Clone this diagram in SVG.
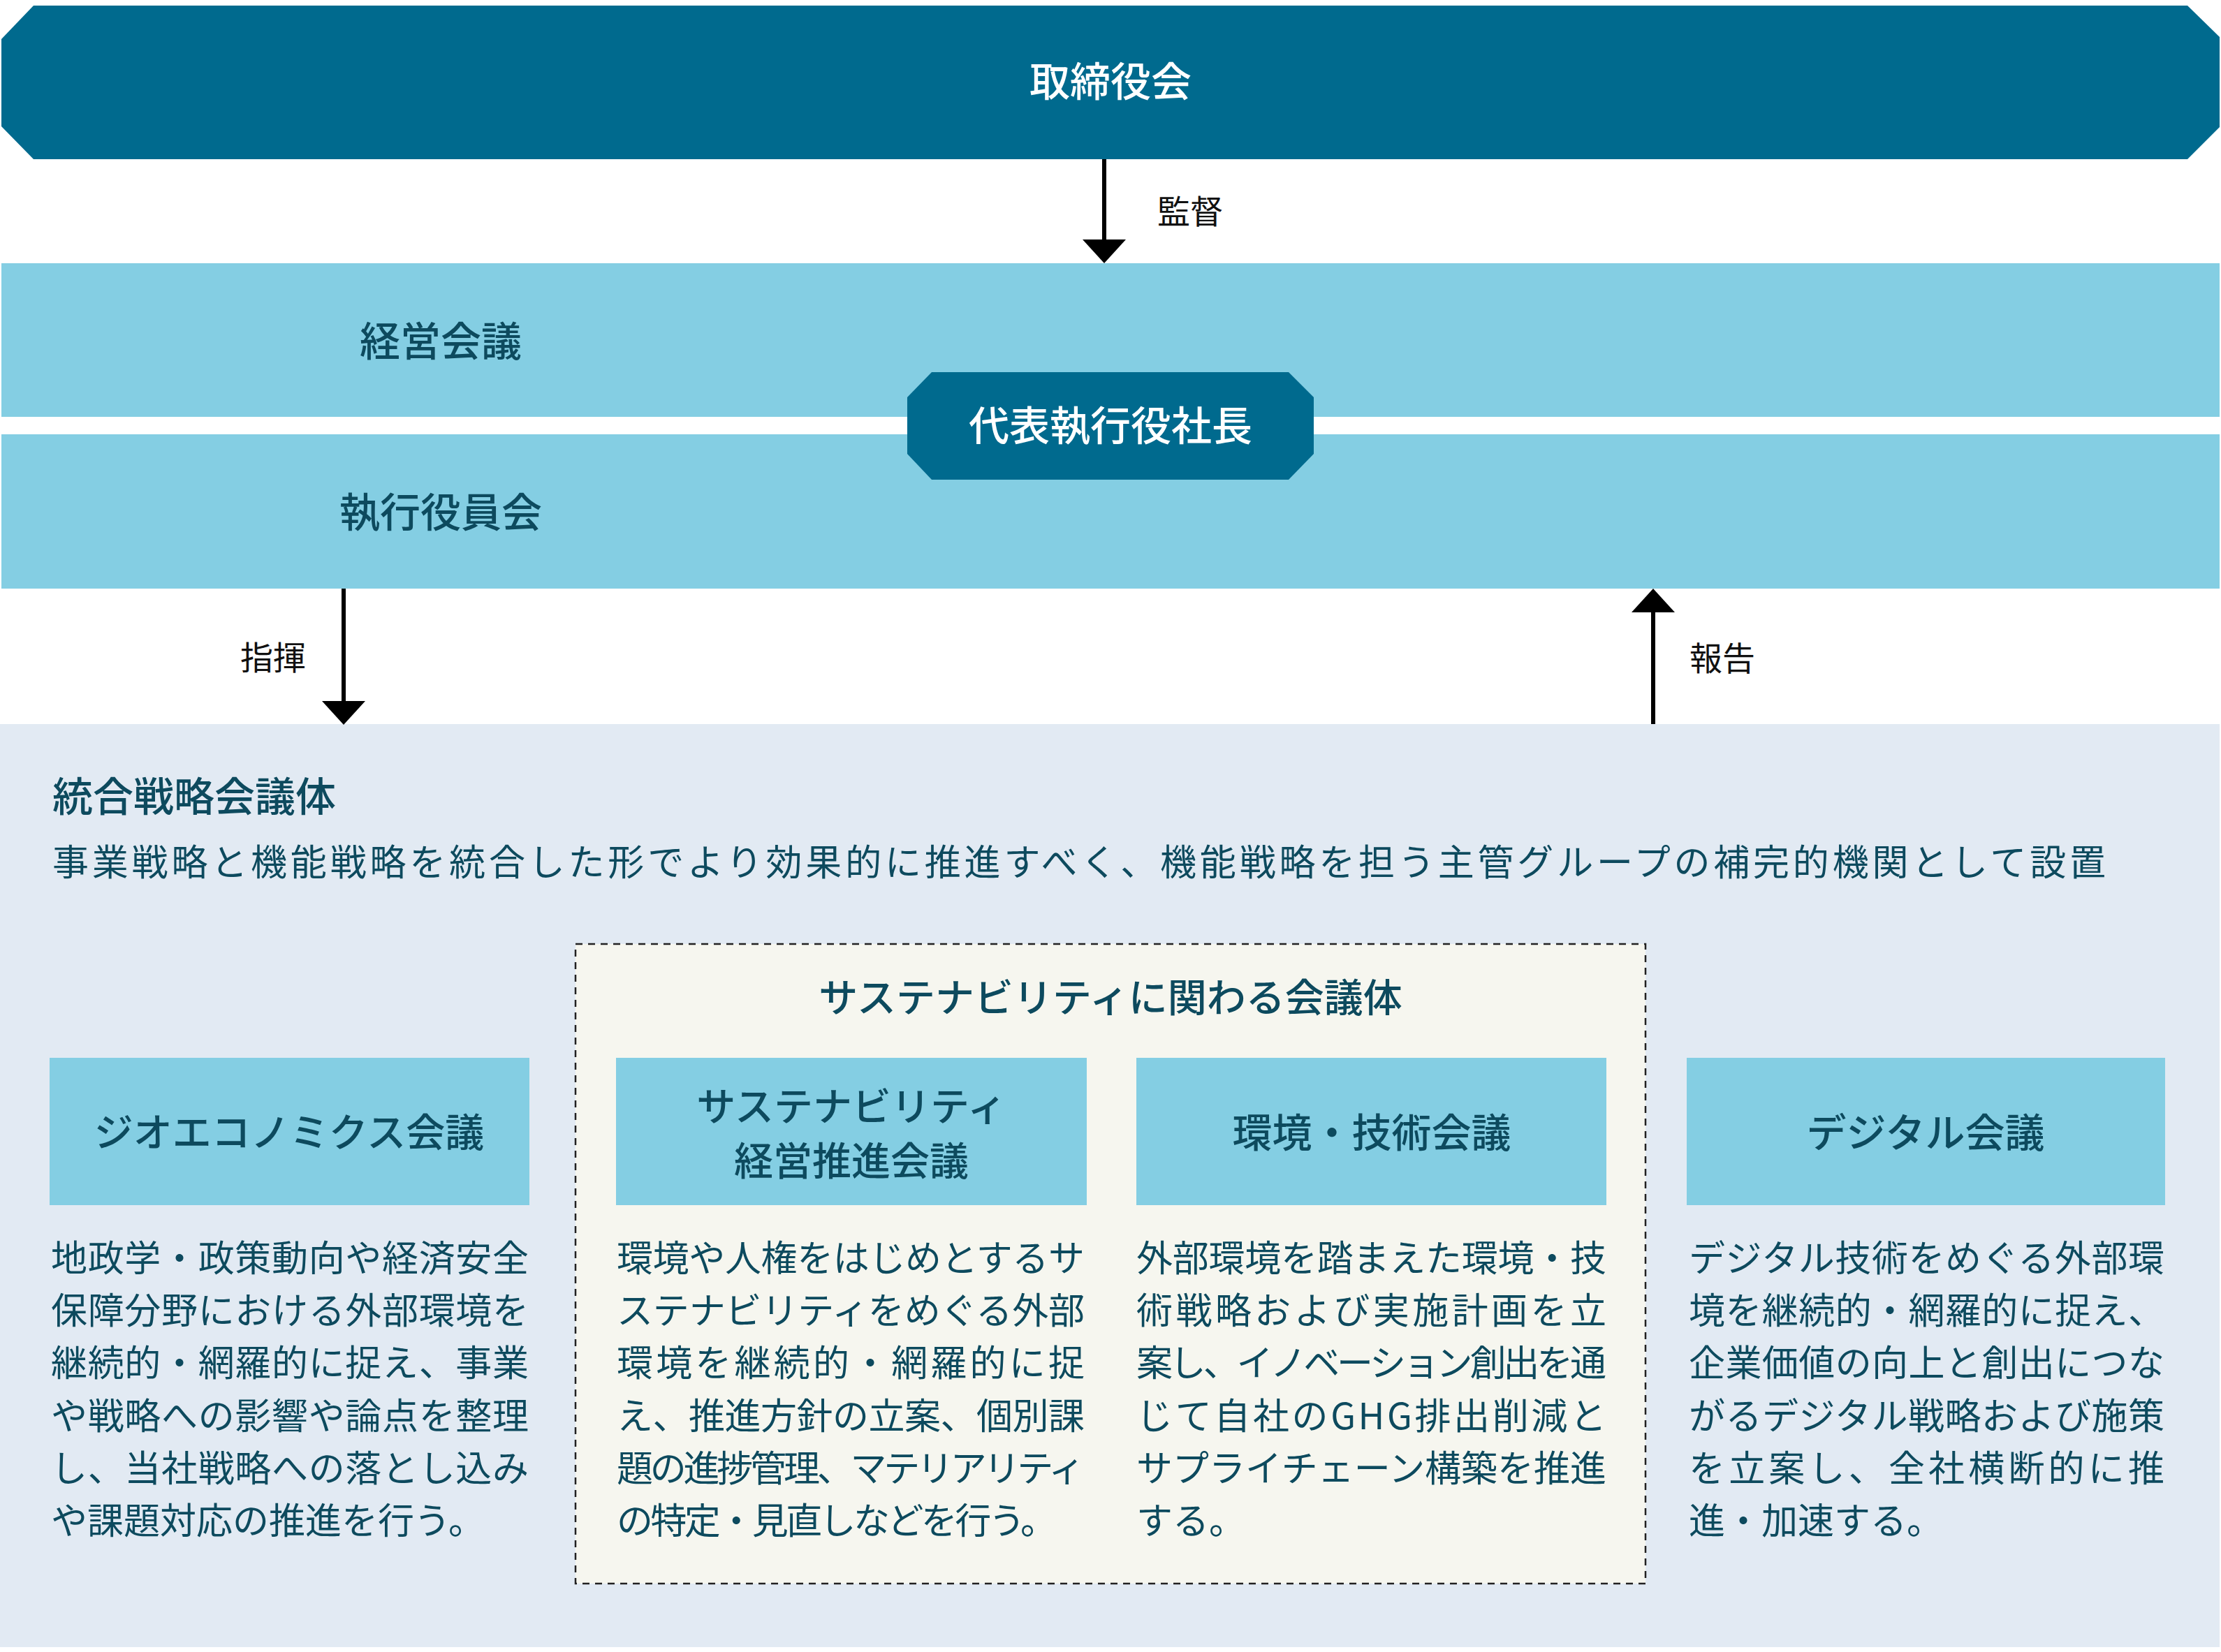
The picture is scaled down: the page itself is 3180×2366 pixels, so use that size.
<svg xmlns="http://www.w3.org/2000/svg" width="3180" height="2366" viewBox="0 0 3180 2366">
<style>
.title{font-family:"Noto Sans CJK JP",sans-serif;font-weight:500;fill:#0d4a5e;}
.white{font-family:"Noto Sans CJK JP",sans-serif;font-weight:500;fill:#ffffff;}
.lbl{font-family:"Noto Sans CJK JP",sans-serif;font-weight:400;fill:#111111;font-size:47px;}
.body{font-family:"Noto Sans CJK JP",sans-serif;font-weight:400;fill:#0d4a5e;font-size:52px;}
.band{fill:#84cee3;}
.dark{fill:#006a8e;}
.conn{stroke:#000;stroke-width:6;fill:none;}
</style>
<defs>
<marker id="ah" markerUnits="userSpaceOnUse" markerWidth="34" markerHeight="62" refX="0" refY="31" orient="auto">
<path d="M0,0 L34,31 L0,62 Z" fill="#000"/>
</marker>
</defs>
<rect x="0" y="0" width="3180" height="2366" fill="#ffffff"/>

<g id="board">
<polygon class="dark" points="48,8 3132,8 3178,53 3178,182 3132,228 48,228 2,181 2,56"/>
<text class="white" x="1590" y="138" font-size="58" text-anchor="middle">取締役会</text>
</g>

<g id="keiei-kaigi">
<rect class="band" x="2" y="377" width="3176" height="220"/>
<text class="title" x="631" y="510" font-size="58" text-anchor="middle">経営会議</text>
</g>

<g id="shikko-yakuinkai">
<rect class="band" x="2" y="622" width="3176" height="221"/>
<text class="title" x="631" y="755" font-size="58" text-anchor="middle">執行役員会</text>
</g>

<g id="ceo">
<polygon class="dark" points="1334,533 1845,533 1881,569 1881,650 1845,687 1334,687 1299,650 1299,569"/>
<text class="white" x="1590" y="631" font-size="58" text-anchor="middle">代表執行役社長</text>
</g>

<g id="togo-senryaku">
<rect x="0" y="1037" width="3178" height="1322" fill="#e2eaf3"/>
<text class="title" x="75" y="1162" font-size="58">統合戦略会議体</text>
<text class="body" x="75" y="1254" font-size="56" textLength="2940" lengthAdjust="spacing">事業戦略と機能戦略を統合した形でより効果的に推進すべく、機能戦略を担う主管グループの補完的機関として設置</text>
</g>

<g id="sustainability-group">
<rect x="824" y="1352" width="1532" height="916" fill="#f6f6ef" stroke="#222" stroke-width="2.5" stroke-dasharray="10,8"/>
<text class="title" x="1590" y="1449" font-size="56" text-anchor="middle">サステナビリティに関わる会議体</text>
</g>

<g id="geoeconomics">
<rect class="band" x="71" y="1515" width="687" height="211"/>
<text class="title" x="414" y="1642" font-size="56" text-anchor="middle">ジオエコノミクス会議</text>
<text class="body" x="73" y="1821" textLength="684" lengthAdjust="spacing">地政学・政策動向や経済安全</text>
<text class="body" x="73" y="1896" textLength="684" lengthAdjust="spacing">保障分野における外部環境を</text>
<text class="body" x="73" y="1971" textLength="684" lengthAdjust="spacing">継続的・網羅的に捉え、事業</text>
<text class="body" x="73" y="2047" textLength="684" lengthAdjust="spacing">や戦略への影響や論点を整理</text>
<text class="body" x="73" y="2122" textLength="684" lengthAdjust="spacing">し、当社戦略への落とし込み</text>
<text class="body" x="73" y="2197">や課題対応の推進を行う。</text>
</g>

<g id="sustainability-kaigi">
<rect class="band" x="882" y="1515" width="674" height="211"/>
<text class="title" x="1219" y="1605" font-size="56" text-anchor="middle">サステナビリティ</text>
<text class="title" x="1219" y="1683" font-size="56" text-anchor="middle">経営推進会議</text>
<text class="body" x="883" y="1821" textLength="670" lengthAdjust="spacing">環境や人権をはじめとするサ</text>
<text class="body" x="883" y="1896" textLength="670" lengthAdjust="spacing">ステナビリティをめぐる外部</text>
<text class="body" x="883" y="1971" textLength="670" lengthAdjust="spacing">環境を継続的・網羅的に捉</text>
<text class="body" x="883" y="2047" textLength="670" lengthAdjust="spacing">え、推進方針の立案、個別課</text>
<text class="body" x="883" y="2122" textLength="670" lengthAdjust="spacing">題の進捗管理、マテリアリティ</text>
<text class="body" x="883" y="2197" textLength="630" lengthAdjust="spacing">の特定・見直しなどを行う。</text>
</g>

<g id="kankyo-gijutsu">
<rect class="band" x="1627" y="1515" width="673" height="211"/>
<text class="title" x="1964" y="1643" font-size="57" text-anchor="middle">環境・技術会議</text>
<text class="body" x="1627" y="1821" textLength="673" lengthAdjust="spacing">外部環境を踏まえた環境・技</text>
<text class="body" x="1627" y="1896" textLength="673" lengthAdjust="spacing">術戦略および実施計画を立</text>
<text class="body" x="1627" y="1971" textLength="673" lengthAdjust="spacing">案し、イノベーション創出を通</text>
<text class="body" x="1627" y="2047" textLength="673" lengthAdjust="spacing">じて自社のGHG排出削減と</text>
<text class="body" x="1627" y="2122" textLength="673" lengthAdjust="spacing">サプライチェーン構築を推進</text>
<text class="body" x="1627" y="2197">する。</text>
</g>

<g id="digital">
<rect class="band" x="2415" y="1515" width="685" height="211"/>
<text class="title" x="2757" y="1643" font-size="57" text-anchor="middle">デジタル会議</text>
<text class="body" x="2418" y="1821" textLength="681" lengthAdjust="spacing">デジタル技術をめぐる外部環</text>
<text class="body" x="2418" y="1896" textLength="681" lengthAdjust="spacing">境を継続的・網羅的に捉え、</text>
<text class="body" x="2418" y="1971" textLength="681" lengthAdjust="spacing">企業価値の向上と創出につな</text>
<text class="body" x="2418" y="2047" textLength="681" lengthAdjust="spacing">がるデジタル戦略および施策</text>
<text class="body" x="2418" y="2122" textLength="681" lengthAdjust="spacing">を立案し、全社横断的に推</text>
<text class="body" x="2418" y="2197">進・加速する。</text>
</g>

<g id="connectors">
<line class="conn" x1="1581" y1="228" x2="1581" y2="343" marker-end="url(#ah)"/>
<text class="lbl" x="1657" y="320">監督</text>
<line class="conn" x1="492" y1="843" x2="492" y2="1004" marker-end="url(#ah)"/>
<text class="lbl" x="344" y="959">指揮</text>
<line class="conn" x1="2367" y1="1037" x2="2367" y2="877" marker-end="url(#ah)"/>
<text class="lbl" x="2419" y="960">報告</text>
</g>
</svg>
